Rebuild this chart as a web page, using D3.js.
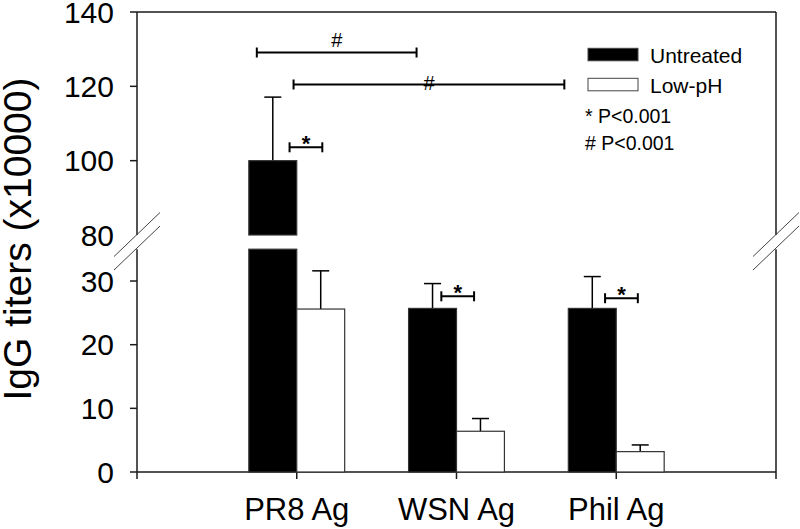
<!DOCTYPE html>
<html>
<head>
<meta charset="utf-8">
<script src="https://cdn.jsdelivr.net/npm/d3@7"></script>
<style>
  html, body { margin: 0; padding: 0; background: #fff; }
  svg { display: block; font-family: "Liberation Sans", Arial, sans-serif; }
</style>
</head>
<body>
<svg id="chart" width="800" height="529"></svg>
<script>
// ---- data (IgG titers, x10000) ----
const categories = ["PR8 Ag", "WSN Ag", "Phil Ag"];
const seriesNames = ["Untreated", "Low-pH"];
const untreated = [100, 25.7, 25.7];
const untreatedErr = [17.1, 3.9, 5.0];
const lowPH = [25.6, 6.4, 3.2];
const lowPHErr = [6.0, 2.0, 1.05];
const lowTicks = [0, 10, 20, 30];
const highTicks = [100, 120, 140];
const highLabelOnly = [80];
// significance brackets: [x-start, x-end] in category-index units, height in data units
const hashBrackets = [[0.75, 1.75, 129.1], [0.98, 2.675, 120.5]];
const starBrackets = [[0.955, 1.16, 103.6], [1.905, 2.11, 27.6], [2.93, 3.135, 27.3]];
const pNotes = ["* P<0.001", "# P<0.001"];

// ---- layout ----
const svg = d3.select("#chart");
const plotL = 137, plotR = 776, plotB = 472, plotT = 12;
const x = d3.scaleLinear().domain([0, 4]).range([plotL, plotR]);
const yLow = d3.scaleLinear().domain([0, 35]).range([plotB, 249.2]);
const yHigh = d3.scaleLinear().domain([80, 140]).range([235, plotT]);
const y = v => (v <= 35 ? yLow(v) : yHigh(v));
const barW = x(0.3) - x(0);
const axisCol = "#1a1a1a";

// ---- frame / axes ----
const g = svg.append("g");
g.append("line").attr("x1", plotL).attr("x2", plotR).attr("y1", plotT).attr("y2", plotT)
  .attr("stroke", axisCol).attr("stroke-width", 1.5);
g.append("line").attr("x1", plotL).attr("x2", plotR).attr("y1", plotB).attr("y2", plotB)
  .attr("stroke", axisCol).attr("stroke-width", 1.5);
[plotL, plotR].forEach(ax => {
  g.append("line").attr("x1", ax).attr("x2", ax).attr("y1", plotT).attr("y2", yHigh(80))
    .attr("stroke", axisCol).attr("stroke-width", 1.5);
  g.append("line").attr("x1", ax).attr("x2", ax).attr("y1", yLow(35)).attr("y2", plotB)
    .attr("stroke", axisCol).attr("stroke-width", 1.5);
  [234.5, 248].forEach(cy => {
    g.append("line").attr("x1", ax - 23).attr("x2", ax + 23)
      .attr("y1", cy + 22).attr("y2", cy - 22)
      .attr("stroke", "#444").attr("stroke-width", 1);
  });
});

// y ticks and labels
const yTickData = lowTicks.map(v => ({v, py: yLow(v), tick: true}))
  .concat(highTicks.map(v => ({v, py: yHigh(v), tick: true})))
  .concat(highLabelOnly.map(v => ({v, py: yHigh(v), tick: false})));
yTickData.forEach(d => {
  if (d.tick) g.append("line").attr("x1", plotL - 7).attr("x2", plotL).attr("y1", d.py).attr("y2", d.py)
    .attr("stroke", axisCol).attr("stroke-width", 1.5);
  g.append("text").attr("x", 114).attr("y", d.py).attr("dy", "0.36em")
    .attr("text-anchor", "end").attr("font-size", 30).attr("fill", "#000").text(d.v);
});

// x ticks
[0, 1, 2, 3, 4].forEach(i => {
  g.append("line").attr("x1", x(i)).attr("x2", x(i)).attr("y1", plotB).attr("y2", plotB + 7)
    .attr("stroke", axisCol).attr("stroke-width", 1.5);
});
categories.forEach((c, i) => {
  g.append("text").attr("x", x(i + 1)).attr("y", 520).attr("text-anchor", "middle")
    .attr("font-size", 31).attr("fill", "#000").text(c);
});

// y title
svg.append("text").attr("transform", `translate(31,239) rotate(-90)`)
  .attr("text-anchor", "middle").attr("font-size", 39).attr("fill", "#000")
  .text("IgG titers (x10000)");

// ---- bars ----
function drawBar(cx0, v, fill, stroke) {
  if (v > 35) {
    g.append("rect").attr("x", cx0).attr("width", barW)
      .attr("y", yLow(35)).attr("height", yLow(0) - yLow(35))
      .attr("fill", fill).attr("stroke", stroke).attr("stroke-width", 1.2);
    g.append("rect").attr("x", cx0).attr("width", barW)
      .attr("y", yHigh(v)).attr("height", yHigh(80) - yHigh(v))
      .attr("fill", fill).attr("stroke", stroke).attr("stroke-width", 1.2);
  } else {
    g.append("rect").attr("x", cx0).attr("width", barW)
      .attr("y", y(v)).attr("height", y(0) - y(v))
      .attr("fill", fill).attr("stroke", stroke).attr("stroke-width", 1.2);
  }
}
function drawErr(cx, v, e) {
  const y0 = y(v), y1 = y(v + e);
  g.append("line").attr("x1", cx).attr("x2", cx).attr("y1", y0).attr("y2", y1)
    .attr("stroke", "#000").attr("stroke-width", 1.5);
  g.append("line").attr("x1", cx - 8.5).attr("x2", cx + 8.5).attr("y1", y1).attr("y2", y1)
    .attr("stroke", "#000").attr("stroke-width", 1.5);
}
categories.forEach((c, i) => {
  const cx = x(i + 1);
  drawErr(cx - barW / 2, untreated[i], untreatedErr[i]);
  drawErr(cx + barW / 2, lowPH[i], lowPHErr[i]);
  drawBar(cx - barW, untreated[i], "#000", "#333");
  drawBar(cx, lowPH[i], "#fff", "#333");
});

// ---- significance brackets ----
function bracket(b, label, fs, dy, weight) {
  const x1 = x(b[0]), x2 = x(b[1]), yy = y(b[2]);
  g.append("line").attr("x1", x1).attr("x2", x2).attr("y1", yy).attr("y2", yy)
    .attr("stroke", "#000").attr("stroke-width", 2);
  [x1, x2].forEach(xx => g.append("line").attr("x1", xx).attr("x2", xx)
    .attr("y1", yy - 5).attr("y2", yy + 5).attr("stroke", "#000").attr("stroke-width", 2));
  g.append("text").attr("x", (x1 + x2) / 2).attr("y", yy + dy).attr("text-anchor", "middle")
    .attr("font-size", fs).attr("font-weight", weight).attr("fill", "#000").text(label);
}
bracket(hashBrackets[0], "#", 20, -5.6, "normal");
bracket(hashBrackets[1], "#", 20, 6, "normal");
starBrackets.forEach(b => bracket(b, "*", 22, 4, "bold"));

// ---- legend ----
const leg = svg.append("g");
const legRows = [{name: seriesNames[0], fill: "#000", ry: 48.3, ty: 62.7},
                 {name: seriesNames[1], fill: "#fff", ry: 78.3, ty: 92.7}];
legRows.forEach(r => {
  leg.append("rect").attr("x", 588).attr("y", r.ry).attr("width", 50).attr("height", 12.5)
    .attr("fill", r.fill).attr("stroke", "#444").attr("stroke-width", 1);
  leg.append("text").attr("x", 650).attr("y", r.ty).attr("font-size", 21).attr("fill", "#000").text(r.name);
});
pNotes.forEach((t, i) => {
  leg.append("text").attr("x", 585).attr("y", 122.7 + i * 27.5).attr("font-size", 19.5)
    .attr("fill", "#000").text(t);
});
</script>
</body>
</html>
